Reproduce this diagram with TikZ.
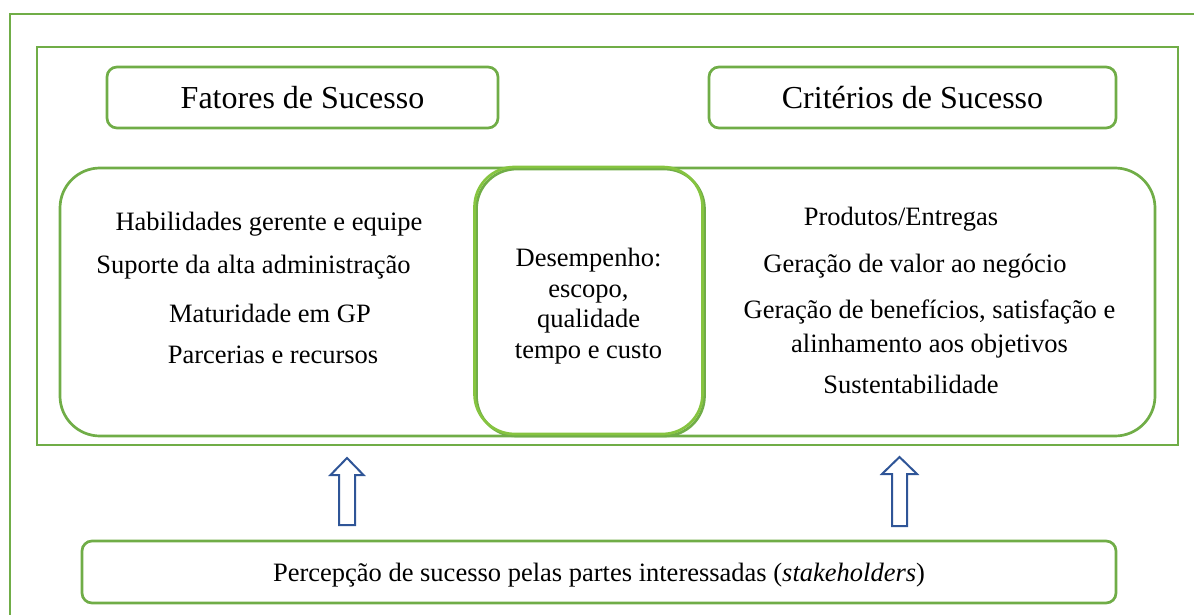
\documentclass[tikz,border=0pt]{standalone}
\usepackage{fontspec}
\setmainfont{Liberation Serif}
\usepackage{tikz}
\usetikzlibrary{calc}

\definecolor{framegreen}{HTML}{70AD47}
\definecolor{lightgreen}{HTML}{86C440}
\definecolor{arrowblue}{HTML}{2F5597}

\begin{document}
\begin{tikzpicture}[
    x = 1pt, y = -1pt,
    frame/.style = {draw = framegreen, line width = 2.7pt},
    box/.style = {frame, rounded corners = 10pt, inner sep = 0pt, text depth = 0pt},
    bigbox/.style = {frame, rounded corners = 40pt, inner sep = 0pt},
    head/.style = {font = \fontsize{32}{36}\selectfont},
    item/.style = {font = \fontsize{26.5}{30.5}\selectfont, anchor = base, inner sep = 0pt},
    blockarrow/.style = {draw = arrowblue, line width = 2pt, fill = white, line join = miter}
  ]
  \useasboundingbox (0,0) rectangle (1194,615);

  % frames
  \coordinate (outerBL) at (10,615);
  \coordinate (outerTL) at (10,14);
  \coordinate (outerTR) at (1194,14);
  \draw[frame] (outerBL) -- (outerTL) -- (outerTR);
  \node[frame, minimum width = 1141pt, minimum height = 398pt, inner sep = 0pt]
    (inner) at (607.5,246) {};

  % headers
  \node[box, head, minimum width = 391pt, minimum height = 61pt]
    (fatores) at (302.5,97.5) {Fatores de Sucesso};
  \node[box, head, minimum width = 407pt, minimum height = 61pt]
    (criterios) at (912.5,97.5) {Critérios de Sucesso};

  % big box and center box
  \node[bigbox, minimum width = 1095pt, minimum height = 268pt]
    (big) at (607.5,302) {};
  \node[bigbox, minimum width = 228pt, minimum height = 267pt]
    (centershadow) at (590.5,302.5) {};
  \node[bigbox, draw = lightgreen, minimum width = 228pt, minimum height = 267pt]
    (center) at (588.5,300.5) {};

  % left items
  \node[item] (habil) at (269,230) {Habilidades gerente e equipe};
  \node[item] (suporte) at (253.5,273) {Suporte da alta administração};
  \node[item] (matur) at (270,322) {Maturidade em GP};
  \node[item] (parc) at (273,363) {Parcerias e recursos};

  % center items (base = last line)
  \node[item, align = center] (desemp) at (588.5,358)
    {Desempenho:\\ escopo,\\ qualidade\\ tempo e custo};

  % right items
  \node[item] (prod) at (901,225) {Produtos/Entregas};
  \node[item] (valor) at (915,272) {Geração de valor ao negócio};
  \node[item, align = center] (benef) at (929.5,352)
    {Geração de benefícios, satisfação e\\[3pt] alinhamento aos objetivos};
  \node[item] (sust) at (911,393) {Sustentabilidade};

  % bottom box
  \node[box, minimum width = 1034pt, minimum height = 62pt,
    font = \fontsize{26.5}{30.5}\selectfont]
    (percep) at (599,572)
    {Percepção de sucesso pelas partes interessadas (\textit{stakeholders})};

  % arrows
  \coordinate (arrL) at (347,525);
  \coordinate (arrR) at (899.5,526);
  \draw[blockarrow] (arrL) ++(-8,0) -- ++(0,-50) -- ++(-8.5,0) -- ++(16.5,-17)
    -- ++(16.5,17) -- ++(-8.5,0) -- ++(0,50) -- cycle;
  \draw[blockarrow] (arrR) ++(-7.5,0) -- ++(0,-52) -- ++(-10,0) -- ++(17.5,-17)
    -- ++(17.5,17) -- ++(-10,0) -- ++(0,52) -- cycle;

\end{tikzpicture}
\end{document}
